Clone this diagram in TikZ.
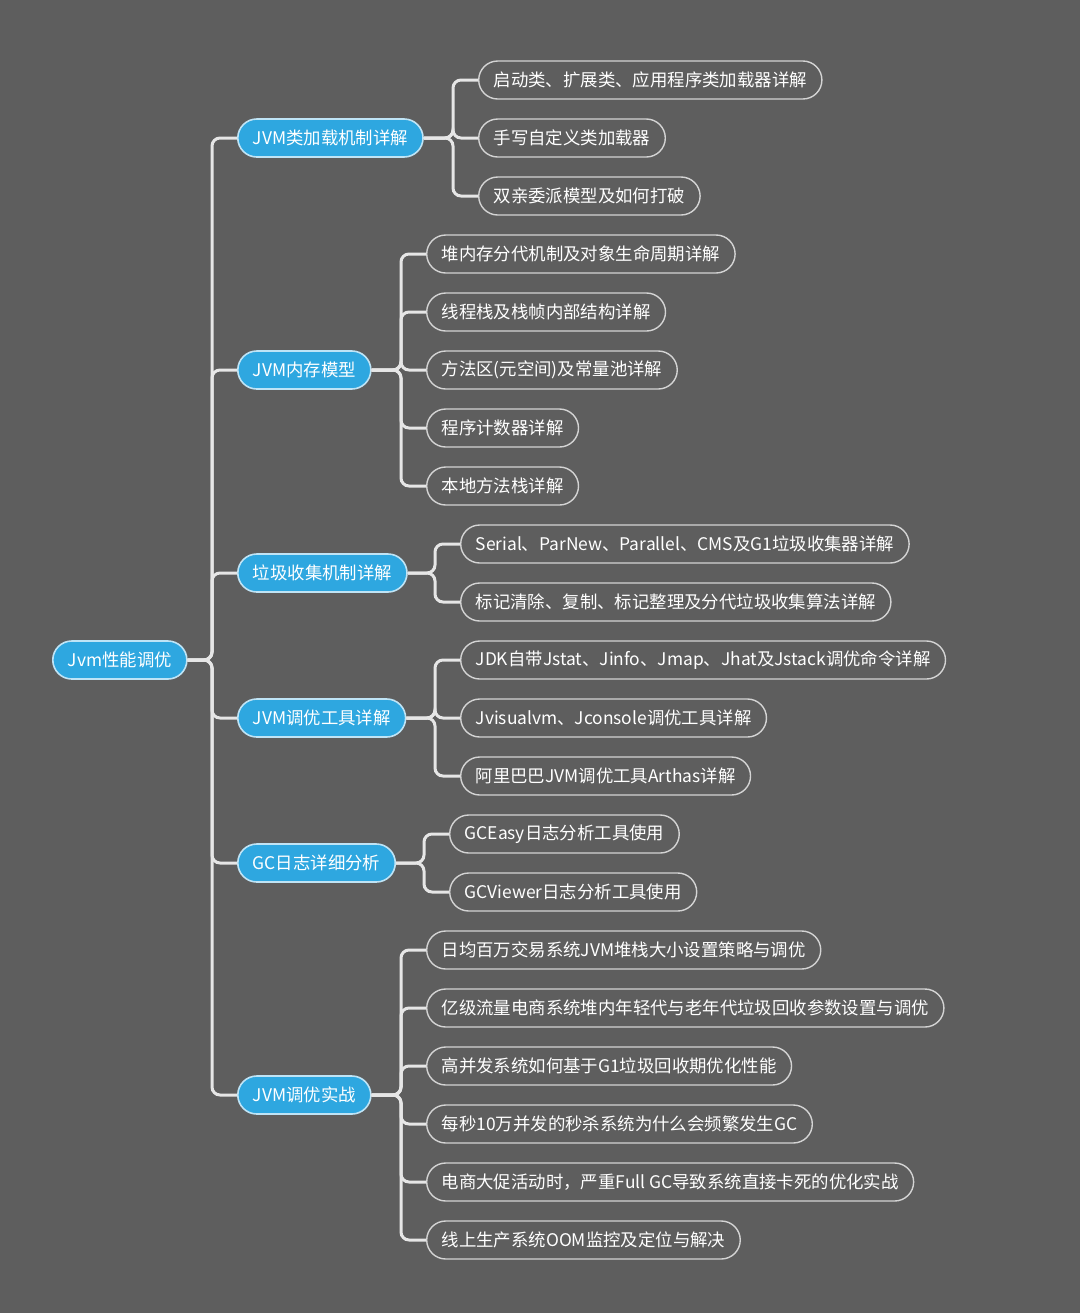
\documentclass[tikz,border=0pt]{standalone}
\usepackage{fontspec}
\setmainfont{Noto Sans CJK SC}
\usetikzlibrary{calc}

\definecolor{bgcol}{HTML}{5E5E5E}
\definecolor{topicblue}{HTML}{2EA7E0}
\definecolor{topicrim}{HTML}{BFE4F6}
\definecolor{leafrim}{HTML}{D4D4D4}
\definecolor{linecol}{HTML}{E6E6E6}

\tikzset{
    mapfont/.style={font=\fontsize{8.7}{10}\selectfont},
    topic/.style={mapfont, anchor=west, rounded corners=9.5pt, fill=topicblue, draw=topicrim,
        line width=0.8pt, text=white, minimum height=19pt, inner xsep=7.5pt, inner ysep=0pt},
    leaf/.style={mapfont, anchor=west, rounded corners=9.5pt, draw=leafrim,
        line width=0.7pt, text=white, minimum height=19pt, inner xsep=7.5pt, inner ysep=0pt},
    conn/.style={draw=linecol, line width=1.5pt, rounded corners=4pt},
}

\begin{document}
\begin{tikzpicture}[x=0.5pt, y=-0.5pt]
    % background / page frame
    \fill[bgcol] (0,0) rectangle (1080,1313);
    \useasboundingbox (0,0) rectangle (1080,1313);

    % ---------------- root ----------------
    \node[topic] (root) at (52,660) {Jvm性能调优};

    % ---------------- first level ----------------
    \node[topic] (t1) at (237,138) {JVM类加载机制详解};
    \node[topic] (t2) at (237,370) {JVM内存模型};
    \node[topic] (t3) at (237,573) {垃圾收集机制详解};
    \node[topic] (t4) at (237,718) {JVM调优工具详解};
    \node[topic] (t5) at (237,863) {GC日志详细分析};
    \node[topic] (t6) at (237,1095) {JVM调优实战};

    % spine
    \foreach \t in {t1,t2,t3,t4,t5,t6}
        \draw[conn] (root.east) -| ([xshift=-12.5pt]\t.west) -- (\t.west);

    % ---------------- class loading ----------------
    \node[leaf] (a1) at (478,80) {启动类、扩展类、应用程序类加载器详解};
    \node[leaf] (a2) at (478,138) {手写自定义类加载器};
    \node[leaf] (a3) at (478,196) {双亲委派模型及如何打破};
    \foreach \l in {a1,a2,a3}
        \draw[conn] (t1.east) -| ([xshift=-12.5pt]\l.west) -- (\l.west);

    % ---------------- memory model ----------------
    \node[leaf] (b1) at (426,254) {堆内存分代机制及对象生命周期详解};
    \node[leaf] (b2) at (426,312) {线程栈及栈帧内部结构详解};
    \node[leaf] (b3) at (426,370) {方法区(元空间)及常量池详解};
    \node[leaf] (b4) at (426,428) {程序计数器详解};
    \node[leaf] (b5) at (426,486) {本地方法栈详解};
    \foreach \l in {b1,b2,b3,b4,b5}
        \draw[conn] (t2.east) -| ([xshift=-12.5pt]\l.west) -- (\l.west);

    % ---------------- garbage collection ----------------
    \node[leaf] (c1) at (460,544) {Serial、ParNew、Parallel、CMS及G1垃圾收集器详解};
    \node[leaf] (c2) at (460,602) {标记清除、复制、标记整理及分代垃圾收集算法详解};
    \foreach \l in {c1,c2}
        \draw[conn] (t3.east) -| ([xshift=-12.5pt]\l.west) -- (\l.west);

    % ---------------- tools ----------------
    \node[leaf] (d1) at (460,660) {JDK自带Jstat、Jinfo、Jmap、Jhat及Jstack调优命令详解};
    \node[leaf] (d2) at (460,718) {Jvisualvm、Jconsole调优工具详解};
    \node[leaf] (d3) at (460,776) {阿里巴巴JVM调优工具Arthas详解};
    \foreach \l in {d1,d2,d3}
        \draw[conn] (t4.east) -| ([xshift=-12.5pt]\l.west) -- (\l.west);

    % ---------------- gc logs ----------------
    \node[leaf] (e1) at (449,834) {GCEasy日志分析工具使用};
    \node[leaf] (e2) at (449,892) {GCViewer日志分析工具使用};
    \foreach \l in {e1,e2}
        \draw[conn] (t5.east) -| ([xshift=-12.5pt]\l.west) -- (\l.west);

    % ---------------- practice ----------------
    \node[leaf] (f1) at (426,950) {日均百万交易系统JVM堆栈大小设置策略与调优};
    \node[leaf] (f2) at (426,1008) {亿级流量电商系统堆内年轻代与老年代垃圾回收参数设置与调优};
    \node[leaf] (f3) at (426,1066) {高并发系统如何基于G1垃圾回收期优化性能};
    \node[leaf] (f4) at (426,1124) {每秒10万并发的秒杀系统为什么会频繁发生GC};
    \node[leaf] (f5) at (426,1182) {电商大促活动时，严重Full GC导致系统直接卡死的优化实战};
    \node[leaf] (f6) at (426,1240) {线上生产系统OOM监控及定位与解决};
    \foreach \l in {f1,f2,f3,f4,f5,f6}
        \draw[conn] (t6.east) -| ([xshift=-12.5pt]\l.west) -- (\l.west);
\end{tikzpicture}
\end{document}
